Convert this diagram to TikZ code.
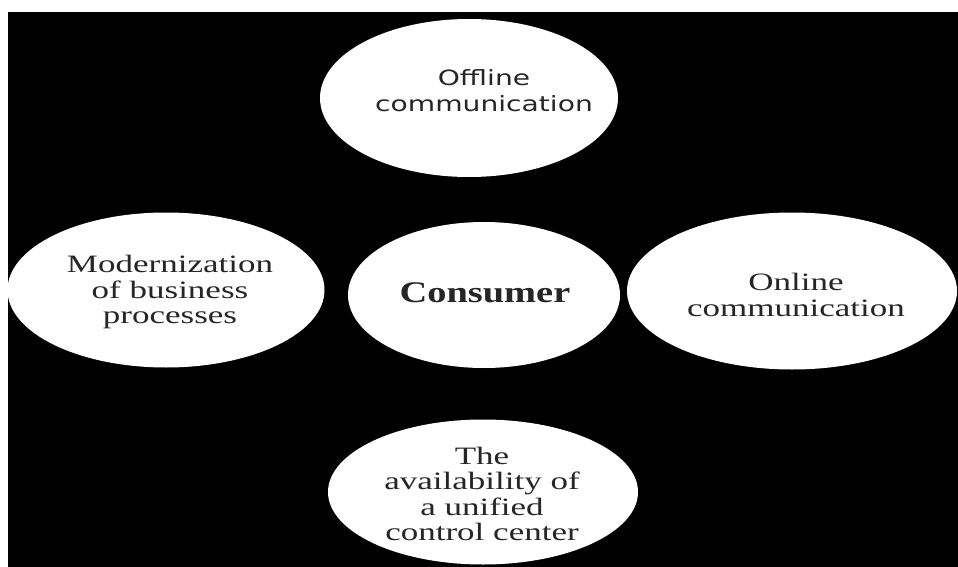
\documentclass[tikz,border=0pt]{standalone}
\usepackage{fontspec}
\usetikzlibrary{shapes.geometric}
\newfontfamily\sansw{DejaVu Sans}[FakeStretch=1.34]
\newfontfamily\serifw{Liberation Serif}[FakeStretch=1.4]
\newfontfamily\consw{Liberation Serif}[FakeStretch=1.28]
\tikzset{
  oval/.style={ellipse, fill=white, draw=none, inner sep=0pt},
  lbl/.style={align=center, inner sep=0pt, text=black!85},
  sanslbl/.style={lbl, font=\sansw\fontsize{21}{26}\selectfont},
  seriflbl/.style={lbl, font=\serifw\fontsize{25}{25.5}\selectfont},
}
\begin{document}
\begin{tikzpicture}[x=1pt, y=-1pt]
  \useasboundingbox (0,0) rectangle (958,567);
  \fill[white] (0,0) rectangle (958,567);
  \fill[black] (8,12) rectangle (958,567);
  % ellipses
  \node[oval, minimum width=298pt, minimum height=158pt] (off) at (469,98) {};
  \node[oval, minimum width=317pt, minimum height=155pt] (mod) at (166,290) {};
  \node[oval, minimum width=272pt, minimum height=146pt] (con) at (484,295) {};
  \node[oval, minimum width=330pt, minimum height=157pt] (onl) at (792,291) {};
  \node[oval, minimum width=310pt, minimum height=145pt] (una) at (483,492) {};
  % labels
  \node[sanslbl] (offt) at (484,91) {Offline\\communication};
  \node[seriflbl] (modt) at (170,292) {Modernization\\of business\\processes};
  \node[lbl, font=\consw\bfseries\fontsize{30}{32}\selectfont] (cont) at (485,293) {Consumer};
  \node[seriflbl] (onlt) at (796,295) {Online\\communication};
  \node[seriflbl] (unat) at (482,494) {The\\availability of\\a unified\\control center};
\end{tikzpicture}
\end{document}
